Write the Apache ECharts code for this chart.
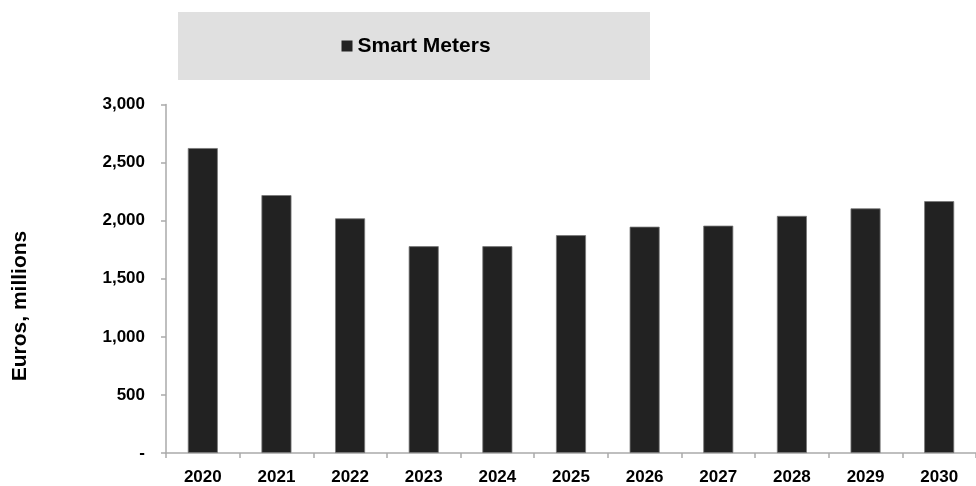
<!DOCTYPE html>
<html>
<head>
<meta charset="utf-8">
<script src="https://cdn.jsdelivr.net/npm/echarts@6/dist/echarts.min.js"></script>
<style>
html,body{margin:0;padding:0;background:#fff;}
#c{width:976px;height:486px;}
</style>
</head>
<body>
<div id="c"></div>
<script>
const categories = ['2020','2021','2022','2023','2024','2025','2026','2027','2028','2029','2030'];
const smartMeters = [2625, 2220, 2020, 1780, 1780, 1875, 1948, 1957, 2041, 2106, 2168];
const yTickLabels = ['-', '500', '1,000', '1,500', '2,000', '2,500', '3,000'];
const seriesName = 'Smart Meters';
const yTitle = 'Euros, millions';

const FONT = '"Liberation Sans", Arial, sans-serif';
const chart = echarts.init(document.getElementById('c'));
chart.setOption({
  animation: false,
  backgroundColor: '#fff',
  graphic: [
    { type: 'rect', z: 0, shape: { x: 178, y: 12, width: 472, height: 68 }, style: { fill: '#e0e0e0' } },
    { type: 'text', x: 20, y: 306, rotation: Math.PI / 2,
      style: { text: yTitle, font: 'bold 21px ' + FONT, fill: '#000', align: 'center', verticalAlign: 'middle' } }
  ],
  legend: {
    data: [seriesName],
    left: 341.5, top: 35.5, padding: 0,
    icon: 'rect', itemWidth: 11, itemHeight: 11, itemGap: 0,
    itemStyle: { color: '#222', borderWidth: 0 },
    textStyle: { fontFamily: FONT, fontWeight: 'bold', fontSize: 21, color: '#000' },
    z: 5
  },
  grid: { left: 166, right: -12, top: 104.5, bottom: 26, containLabel: false },
  xAxis: {
    type: 'category', data: categories, boundaryGap: true,
    axisLine: { lineStyle: { color: '#aaa', width: 1.5 } },
    axisTick: { show: true, length: 5, lineStyle: { color: '#aaa', width: 1.5 } },
    axisLabel: { fontFamily: FONT, fontWeight: 'bold', fontSize: 17, color: '#000', margin: 16 }
  },
  yAxis: {
    type: 'value', min: 0, max: 3000, interval: 500,
    axisLine: { show: true, lineStyle: { color: '#aaa', width: 1.5 } },
    axisTick: { show: true, length: 5, lineStyle: { color: '#aaa', width: 1.5 } },
    splitLine: { show: false },
    axisLabel: { fontFamily: FONT, fontWeight: 'bold', fontSize: 17, color: '#000', margin: 21,
      formatter: v => yTickLabels[Math.round(v / 500)] }
  },
  series: [{
    name: seriesName, type: 'bar', data: smartMeters, barWidth: 30,
    itemStyle: { color: '#222', borderColor: '#777', borderWidth: 0.8 }
  }]
});
</script>
</body>
</html>
